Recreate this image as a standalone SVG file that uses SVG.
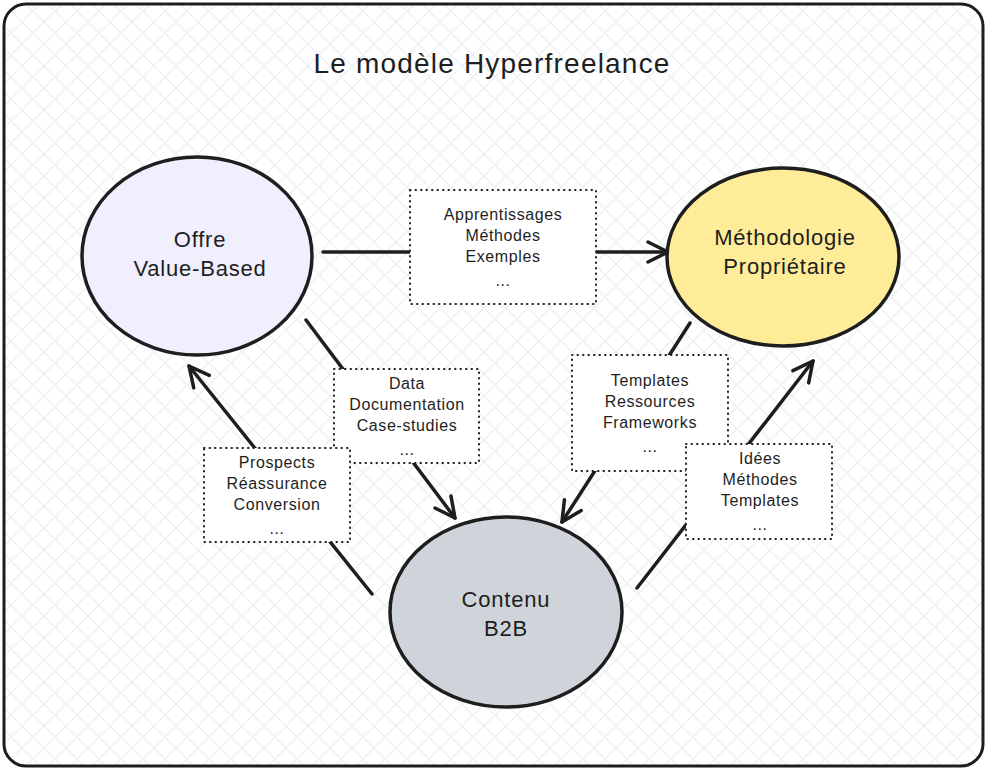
<svg xmlns="http://www.w3.org/2000/svg" width="990" height="776" viewBox="0 0 990 776">
  <defs>
    <pattern id="hatch" width="22" height="22" patternUnits="userSpaceOnUse">
      <path d="M0 0 L22 22 M22 0 L0 22" stroke="#eef0f3" stroke-width="1.4" fill="none"/>
    </pattern>
    <marker id="arr" markerUnits="userSpaceOnUse" markerWidth="30" markerHeight="30" refX="22" refY="15" orient="auto">
      <path d="M2 5 L22 15 L2 25" fill="none" stroke="#1e1e1e" stroke-width="3.5" stroke-linecap="round" stroke-linejoin="round"/>
    </marker>
  </defs>
  <style>
    .frame { fill: url(#hatch); stroke: #1e1e1e; stroke-width: 3; }
    .title { font-family: "Liberation Sans", "DejaVu Sans", sans-serif; font-size: 28px; letter-spacing: 1.2px; fill: #1e1e1e; text-anchor: middle; }
    .node { stroke: #1e1e1e; stroke-width: 3.5; }
    .ntext { font-family: "Liberation Sans", "DejaVu Sans", sans-serif; font-size: 22px; letter-spacing: 0.8px; fill: #1e1e1e; text-anchor: middle; }
    .box { fill: #ffffff; stroke: #1e1e1e; stroke-width: 2; stroke-dasharray: 0.5 5; stroke-linecap: round; }
    .btext { font-family: "Liberation Sans", "DejaVu Sans", sans-serif; font-size: 16px; letter-spacing: 0.6px; fill: #1e1e1e; text-anchor: middle; }
    .edge { fill: none; stroke: #1e1e1e; stroke-width: 3.5; stroke-linecap: round; }
  </style>

  <rect x="4" y="4" width="979" height="762" rx="22" class="frame"/>
  <text x="492" y="73" class="title">Le modèle Hyperfreelance</text>

  <g id="connectors">
    <line class="edge" x1="323" y1="252" x2="668" y2="252" marker-end="url(#arr)"/>
    <line class="edge" x1="306" y1="320" x2="455" y2="518" marker-end="url(#arr)"/>
    <line class="edge" x1="690" y1="323" x2="562" y2="522" marker-end="url(#arr)"/>
    <line class="edge" x1="372" y1="594" x2="189" y2="366" marker-end="url(#arr)"/>
    <line class="edge" x1="637" y1="588" x2="813" y2="361" marker-end="url(#arr)"/>
  </g>

  <g id="node-offre">
    <ellipse class="node" cx="197" cy="256" rx="115" ry="99" fill="#f1eefe"/>
    <text class="ntext" x="200" y="247">Offre</text>
    <text class="ntext" x="200" y="276">Value-Based</text>
  </g>

  <g id="node-methodologie">
    <ellipse class="node" cx="783" cy="257" rx="116" ry="89" fill="#ffec99"/>
    <text class="ntext" x="785" y="245">Méthodologie</text>
    <text class="ntext" x="785" y="274">Propriétaire</text>
  </g>

  <g id="node-contenu">
    <ellipse class="node" cx="506" cy="612" rx="116" ry="95" fill="#ced4da" stroke="#343a40"/>
    <text class="ntext" x="506" y="607" fill="#343a40">Contenu</text>
    <text class="ntext" x="506" y="636" fill="#343a40">B2B</text>
  </g>

  <g id="label-apprentissages">
    <rect class="box" x="410" y="190" width="186" height="114"/>
    <text class="btext" x="503" y="220">Apprentissages</text>
    <text class="btext" x="503" y="241">Méthodes</text>
    <text class="btext" x="503" y="262">Exemples</text>
    <text class="btext" x="503" y="286">...</text>
  </g>

  <g id="label-data">
    <rect class="box" x="334" y="369" width="145" height="94"/>
    <text class="btext" x="407" y="389">Data</text>
    <text class="btext" x="407" y="410">Documentation</text>
    <text class="btext" x="407" y="431">Case-studies</text>
    <text class="btext" x="407" y="455">...</text>
  </g>

  <g id="label-prospects">
    <rect class="box" x="204" y="448" width="146" height="94"/>
    <text class="btext" x="277" y="468">Prospects</text>
    <text class="btext" x="277" y="489">Réassurance</text>
    <text class="btext" x="277" y="510">Conversion</text>
    <text class="btext" x="277" y="534">...</text>
  </g>

  <g id="label-templates">
    <rect class="box" x="572" y="355" width="156" height="116"/>
    <text class="btext" x="650" y="386">Templates</text>
    <text class="btext" x="650" y="407">Ressources</text>
    <text class="btext" x="650" y="428">Frameworks</text>
    <text class="btext" x="650" y="452">...</text>
  </g>

  <g id="label-idees">
    <rect class="box" x="686" y="444" width="146" height="95"/>
    <text class="btext" x="760" y="464">Idées</text>
    <text class="btext" x="760" y="485">Méthodes</text>
    <text class="btext" x="760" y="506">Templates</text>
    <text class="btext" x="760" y="530">...</text>
  </g>
</svg>
